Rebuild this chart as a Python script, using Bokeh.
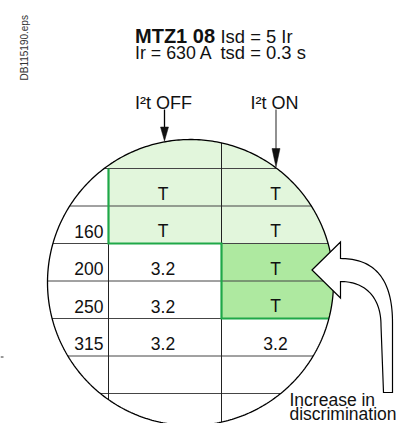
import numpy as np
from bokeh.plotting import figure
from bokeh.models import Range1d
from bokeh.core.properties import value
from bokeh.embed import file_html
from bokeh.resources import INLINE

# ---- content -------------------------------------------------------------
row_labels = ["", "160", "200", "250", "315", "", ""]
off_values = ["T", "T", "3.2", "3.2", "3.2", "", ""]
on_values = ["T", "T", "T", "T", "3.2", "", ""]
header_left = ["MTZ1 08", "Ir = 630 A"]
header_right = ["Isd = 5 Ir", "tsd = 0.3 s"]
column_titles = ["I²t OFF", "I²t ON"]
note_lines = ["Increase in", "discrimination"]
doc_id = ["DB115190.eps"]

# ---- layout (pixel space of the drawing) ---------------------------------
CX, CY, R = 190.0, 282.0, 143.0
ROW_TOP, ROW_H = 168.0, 37.5
X_LAB, X_MID = 108.0, 221.0
FONT = value("Liberation Sans")

LIGHT = "#e2f6dc"
DARK = "#aee9a0"
GREEN = "#1fa848"

W, H = 405, 423
p = figure(width=W, height=H, x_range=Range1d(0, W), y_range=Range1d(H, 0),
           x_axis_type=None, y_axis_type=None, toolbar_location=None,
           output_backend="svg", min_border=0, outline_line_color=None,
           background_fill_color="white", border_fill_color="white")
p.grid.visible = False


def hw(y):
    return np.sqrt(max(R * R - (y - CY) ** 2, 0.0))


def vh(x):
    return np.sqrt(max(R * R - (x - CX) ** 2, 0.0))


def arc(a0, a1, n=80):
    t = np.linspace(a0, a1, n)
    return list(CX + R * np.cos(t)), list(CY + R * np.sin(t))


n_rows = len(row_labels)
bounds = [ROW_TOP + ROW_H * i for i in range(n_rows + 1)]
y_green = bounds[2]   # 243
y_dark = bounds[4]    # 318

# light green zone
a0 = np.arctan2(-vh(X_LAB), X_LAB - CX)
a1 = np.arctan2(y_green - CY, hw(y_green))
ax, ay = arc(a0, a1)
p.patch([X_LAB] + ax + [X_LAB], [y_green] + ay + [y_green], fill_color=LIGHT, line_color=None)

# dark green zone
b0 = np.arctan2(y_green - CY, hw(y_green))
b1 = np.arctan2(y_dark - CY, hw(y_dark))
bx, by = arc(b0, b1)
p.patch([X_MID] + bx + [X_MID], [y_green] + by + [y_dark], fill_color=DARK, line_color=None)

# row lines
x0s, x1s, ys = [], [], []
for yb in bounds[:-1]:
    h = hw(yb)
    x0s.append(CX - h)
    x1s.append(CX + h)
    ys.append(yb)
p.segment(x0=x0s, y0=ys, x1=x1s, y1=ys, line_color="#454545", line_width=1)

# column lines
p.segment(x0=[X_LAB, X_MID], y0=[ROW_TOP, CY - vh(X_MID)],
          x1=[X_LAB, X_MID], y1=[CY + vh(X_LAB), CY + vh(X_MID)],
          line_color="#222222", line_width=1)

# green border
p.line([X_LAB, X_LAB, X_MID, X_MID, CX + hw(y_dark)],
       [ROW_TOP, y_green, y_green, y_dark, y_dark],
       line_color=GREEN, line_width=2.2, line_join="miter")

# circle outline
t = np.linspace(0, 2 * np.pi, 400)
p.line(list(CX + R * np.cos(t)), list(CY + R * np.sin(t)), line_color="black", line_width=1.3)

# table texts
centers = [ROW_TOP + ROW_H * (i + 0.5) + 6.5 for i in range(n_rows)]
p.text(x=[103] * n_rows, y=centers, text=row_labels, text_align="right",
       text_baseline="alphabetic", text_font=FONT, text_font_size="17.5px", text_color="#111")
p.text(x=[162.5] * n_rows, y=centers, text=off_values, text_align="center",
       text_baseline="alphabetic", text_font=FONT, text_font_size="17.5px", text_color="#111")
p.text(x=[275] * n_rows, y=centers, text=on_values, text_align="center",
       text_baseline="alphabetic", text_font=FONT, text_font_size="17.5px", text_color="#111")

# header
p.text(x=[134.5], y=[35.5], text=header_left[:1], text_font=FONT, text_font_size="20px",
       text_font_style="bold", text_baseline="alphabetic", text_color="#111")
p.text(x=[134.5], y=[52], text=header_left[1:], text_font=FONT, text_font_size="17.8px",
       text_baseline="alphabetic", text_color="#111")
p.text(x=[220, 220], y=[35.5, 52], text=header_right, text_font=FONT, text_font_size="18.4px",
       text_baseline="alphabetic", text_color="#111")

# column titles and arrows
p.text(x=[134.5, 250], y=[102.5, 102.5], text=column_titles, text_font=FONT,
       text_font_size="18px", text_baseline="alphabetic", text_color="#111")
p.segment(x0=[164], y0=[109], x1=[164], y1=[128], line_color="black", line_width=1.3)
p.segment(x0=[275.5], y0=[109], x1=[275.5], y1=[149], line_color="#555555", line_width=1.3)
p.patches([[160, 168, 164], [271.5, 279.5, 275.5]], [[126.5, 126.5, 140.5], [148, 148, 166.5]],
          fill_color="#111", line_color="#111", line_width=0.5)

# curved arrow "increase in discrimination"
def bez(p0, p1, p2, p3, n=40):
    s = np.linspace(0, 1, n)[:, None]
    pts = ((1 - s) ** 3) * np.array(p0) + 3 * ((1 - s) ** 2) * s * np.array(p1) \
        + 3 * (1 - s) * s ** 2 * np.array(p2) + s ** 3 * np.array(p3)
    return pts

outer = bez((340, 258), (372, 258), (392, 276), (392, 322))
inner = bez((380.5, 325), (380.5, 296), (364, 281), (340, 281))
pts = [(311.5, 269.5), (340, 241.5)] + [tuple(q) for q in outer] + [(392, 392), (383, 392)] \
    + [tuple(q) for q in inner] + [(340, 297.5), (311.5, 269.5)]
p.patch([q[0] for q in pts], [q[1] for q in pts], fill_color="white", line_color="black",
        line_width=1.2, line_join="miter")

p.text(x=[289, 289], y=[399, 413], text=note_lines, text_font=FONT, text_font_size="17.5px",
       text_baseline="alphabetic", text_color="#111")

# small stray mark at the left edge
p.segment(x0=[0], y0=[356.5], x1=[3], y1=[356.5], line_color="#333333", line_width=1)

# vertical document id
p.text(x=[23.5], y=[80], text=doc_id, angle=np.pi / 2, text_font=FONT, text_font_size="10px",
       text_baseline="alphabetic", text_align="left", text_color="#333")

open("out.html", "w").write(file_html(p, INLINE))
